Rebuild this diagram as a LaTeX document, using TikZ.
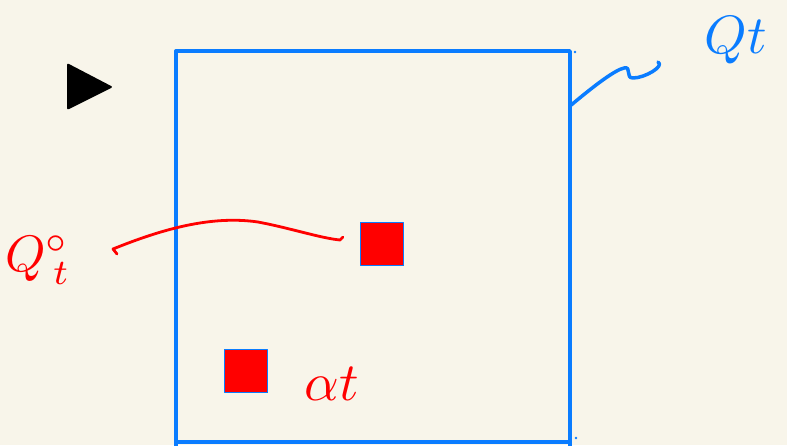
\documentclass[tikz,border=0pt]{standalone}
\usetikzlibrary{positioning}
\definecolor{bgpaper}{RGB}{248,245,234}
\definecolor{penblue}{RGB}{10,124,255}
\definecolor{penred}{RGB}{255,0,0}
\tikzset{
  inkblue/.style={draw=penblue, line width=3.5pt, line cap=round, line join=round},
  inkred/.style={draw=penred, line width=2.8pt, line cap=round, line join=round},
  redbox/.style={fill=penred, draw=penblue, line width=1.2pt, minimum size=43pt, inner sep=0pt},
  handlabel/.style={inner sep=0pt, scale=5.4}
}
\begin{document}
\begin{tikzpicture}[x=1pt, y=-1pt, line join=round, line cap=round]
  % Paper
  \fill[bgpaper] (0,0) rectangle (787,445);
  \useasboundingbox (0,0) rectangle (787,445);

  % Play triangle
  \fill[black, rounded corners=2pt] (67,63) -- (113,87) -- (67,110) -- cycle;

  % Big square Q_t
  \draw[inkblue] (176,51) -- (570,51) -- (570,460);
  \draw[inkblue] (176,51) -- (176,460);
  \draw[inkblue] (176,442) -- (570,442);
  \fill[penblue] (575,52) circle (1.3pt);
  \fill[penblue] (576,438) circle (1.3pt);

  % Small red squares
  \node[redbox] (sqa) at (382,244) {};
  \node[redbox] (sqb) at (246,371) {};

  % Labels
  \node[handlabel, text=penblue] (lblQ) at (736,40) {$Q t$};
  \node[handlabel, text=penred, scale=0.95] (lblQo) at (38,260) {$Q^{\circ}_{\,t}$};
  \node[handlabel, text=penred] (lblalpha) at (332,384) {$\alpha t$};

  % Leader lines
  \coordinate (qa) at (570,106);
  \draw[inkblue] (qa) .. controls (595,85) and (615,70) .. (624,68)
    .. controls (632,66) and (625,78) .. (633,78)
    .. controls (645,78) and (665,66) .. (658,62);
  \draw[inkred] (117,254) -- (113,249)
    .. controls (160,230) and (210,215) .. (258,222)
    .. controls (290,228) and (320,238) .. (340,240) -- (343,237);
\end{tikzpicture}
\end{document}
